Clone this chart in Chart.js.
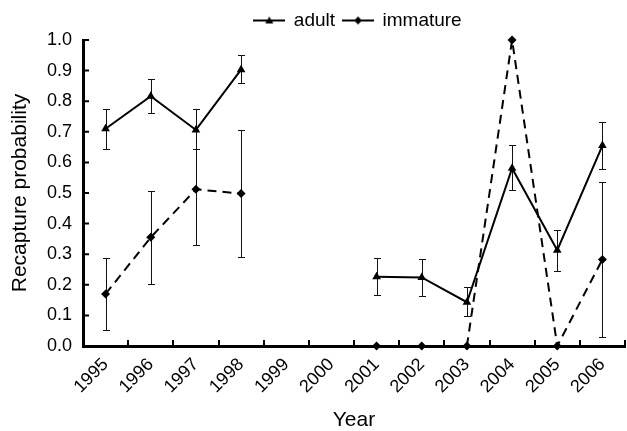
<!DOCTYPE html>
<html>
<head>
<meta charset="utf-8">
<script src="https://cdn.jsdelivr.net/npm/chart.js@4.4.1/dist/chart.umd.min.js"></script>
<style>
  html, body { margin: 0; padding: 0; background: #fff; overflow: hidden; }
  #wrap { width: 630px; height: 431px; }
</style>
</head>
<body>
<div id="wrap"><canvas id="recaptureChart" width="630" height="431"></canvas></div>
<script>
// Values
const years = ['1995', '1996', '1997', '1998', '1999', '2000', '2001', '2002', '2003', '2004', '2005', '2006'];
const adult = [0.71, 0.816, 0.706, 0.903, null, null, 0.226, 0.224, 0.143, 0.581, 0.313, 0.655];
const adultHigh = [0.774, 0.871, 0.774, 0.95, null, null, 0.287, 0.284, 0.194, 0.658, 0.38, 0.732];
const adultLow = [0.645, 0.761, 0.645, 0.861, null, null, 0.168, 0.165, 0.097, 0.51, 0.245, 0.58];
const immature = [0.17, 0.355, 0.512, 0.498, null, null, 0, 0, 0, 1.0, 0, 0.283];
const immatureHigh = [0.287, 0.506, 0.645, 0.705, null, null, null, null, null, null, null, 0.537];
const immatureLow = [0.052, 0.204, 0.329, 0.291, null, null, null, null, null, null, null, 0.03];
const yTicks = [0, 0.1, 0.2, 0.3, 0.4, 0.5, 0.6, 0.7, 0.8, 0.9, 1.0];

const FONT = 'Arial, "Liberation Sans", sans-serif';

// legend swatch: short line with the marker in the middle
function swatch(kind) {
    const c = document.createElement('canvas');
    c.width = 32; c.height = 12;
    const g = c.getContext('2d');
    g.strokeStyle = '#000'; g.fillStyle = '#000'; g.lineWidth = 2;
    g.beginPath(); g.moveTo(0, 6); g.lineTo(32, 6); g.stroke();
    g.beginPath();
    if (kind === 'triangle') {
        g.moveTo(16, 2); g.lineTo(20, 9); g.lineTo(12, 9);
    } else {
        g.moveTo(16, 2); g.lineTo(20, 6); g.lineTo(16, 10); g.lineTo(12, 6);
    }
    g.closePath(); g.fill();
    return c;
}

// error bars, drawn under the markers
const errorBars = {
    id: 'errorBars',
    beforeDatasetsDraw(chart) {
        const ctx = chart.ctx, x = chart.scales.x, y = chart.scales.y;
        const sets = [[adultLow, adultHigh], [immatureLow, immatureHigh]];
        ctx.save();
        ctx.strokeStyle = '#111';
        ctx.lineWidth = 1;
        sets.forEach(([lo, hi]) => {
            years.forEach((yr, i) => {
                if (lo[i] == null || hi[i] == null) return;
                const px = Math.round(x.getPixelForValue(i)) + 0.5;
                const y1 = Math.round(y.getPixelForValue(lo[i])) + 0.5;
                const y2 = Math.round(y.getPixelForValue(hi[i])) + 0.5;
                ctx.beginPath();
                ctx.moveTo(px, y1); ctx.lineTo(px, y2);
                ctx.moveTo(px - 3.5, y1); ctx.lineTo(px + 3.5, y1);
                ctx.moveTo(px - 3.5, y2); ctx.lineTo(px + 3.5, y2);
                ctx.stroke();
            });
        });
        ctx.restore();
    }
};

// Excel style inward tick marks, x ticks between categories
const innerTicks = {
    id: 'innerTicks',
    afterDatasetsDraw(chart) {
        const ctx = chart.ctx, x = chart.scales.x, y = chart.scales.y;
        const a = chart.chartArea;
        ctx.save();
        ctx.strokeStyle = '#000';
        ctx.lineWidth = 2;
        ctx.beginPath();
        yTicks.forEach(v => {
            const py = y.getPixelForValue(v);
            ctx.moveTo(a.left, py); ctx.lineTo(a.left + 6, py);
        });
        const half = (x.getPixelForValue(1) - x.getPixelForValue(0)) / 2;
        for (let i = 0; i < years.length; i++) {
            const px = Math.round(x.getPixelForValue(i) + half);
            ctx.moveTo(px, a.bottom); ctx.lineTo(px, a.bottom - 6);
        }
        ctx.stroke();
        ctx.restore();
    }
};

// centre the legend over the plot area rather than the whole canvas
const legendShift = {
    id: 'legendShift',
    beforeDraw(chart) {
        const lg = chart.legend;
        if (!lg) return;
        lg.left = chart.chartArea.left + 4;
        lg.right = chart.chartArea.right + 4;
    }
};

const ctx = document.getElementById('recaptureChart').getContext('2d');
new Chart(ctx, {
    type: 'line',
    data: {
        labels: years,
        datasets: [{
            label: 'adult',
            data: adult,
            borderColor: '#000',
            backgroundColor: '#000',
            borderWidth: 2,
            pointStyle: 'triangle',
            pointRadius: 5,
            pointBorderWidth: 0,
            spanGaps: false,
            clip: false
        }, {
            label: 'immature',
            data: immature,
            borderColor: '#000',
            backgroundColor: '#000',
            borderWidth: 2,
            borderDash: [9, 6],
            pointStyle: 'rectRot',
            pointRadius: 4.5,
            pointBorderWidth: 0,
            spanGaps: false,
            clip: false
        }]
    },
    options: {
        responsive: false,
        animation: false,
        layout: { padding: { top: 3, left: 0, right: 0, bottom: 0 } },
        plugins: {
            tooltip: { enabled: false },
            legend: {
                position: 'top',
                labels: {
                    color: '#000',
                    font: { family: FONT, size: 19 },
                    usePointStyle: true,
                    pointStyleWidth: 30,
                    padding: 8,
                    generateLabels: chart => chart.data.datasets.map((ds, i) => ({
                        text: ds.label,
                        pointStyle: swatch(i === 0 ? 'triangle' : 'diamond'),
                        fontColor: '#000',
                        lineWidth: 0,
                        datasetIndex: i
                    }))
                }
            }
        },
        scales: {
            x: {
                type: 'category',
                offset: true,
                grid: { display: false, drawTicks: false },
                border: { display: true, color: '#000', width: 3 },
                ticks: {
                    color: '#000',
                    font: { family: FONT, size: 18 },
                    minRotation: 45,
                    maxRotation: 45,
                    padding: 8,
                    autoSkip: false
                },
                title: {
                    display: true,
                    text: 'Year',
                    color: '#000',
                    font: { family: FONT, size: 21, lineHeight: 1 },
                    padding: { top: 0, bottom: 0 }
                },
                afterFit: s => { s.height = 85; }
            },
            y: {
                min: 0,
                max: 1,
                grid: { display: false, drawTicks: false },
                border: { display: true, color: '#000', width: 3 },
                afterBuildTicks: s => { s.ticks = yTicks.map(v => ({ value: v })); },
                ticks: {
                    color: '#000',
                    font: { family: FONT, size: 18 },
                    padding: 11,
                    callback: v => Number(v).toFixed(1)
                },
                title: {
                    display: true,
                    text: 'Recapture probability',
                    color: '#000',
                    font: { family: FONT, size: 21 },
                    padding: { top: 8, bottom: 0 }
                },
                afterFit: s => { s.width = 83; }
            }
        }
    },
    plugins: [errorBars, innerTicks, legendShift]
});
</script>
</body>
</html>
